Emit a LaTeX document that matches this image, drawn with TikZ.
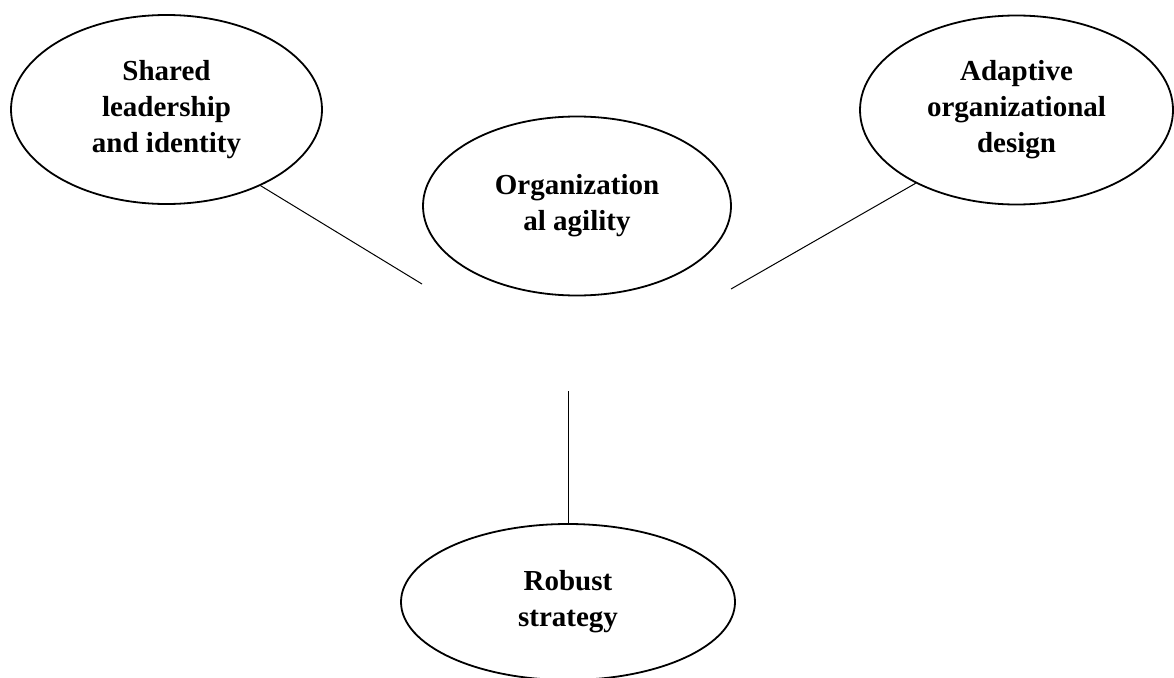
\documentclass[tikz,border=0pt]{standalone}
\usepackage{fontspec}
\setmainfont{Liberation Serif}
\usetikzlibrary{shapes.geometric}

\begin{document}
\begin{tikzpicture}[x=1pt,y=-1pt,
    bubble/.style={draw,ellipse,line width=1.8pt,inner sep=0pt,align=center,
      font=\fontsize{29}{36}\selectfont\bfseries},
    link/.style={line width=1pt}]
    \useasboundingbox (0,0) rectangle (1174,677);
    \node[bubble,minimum width=311,minimum height=189] (shared)   at (166.5,109.5) {Shared\\leadership\\and identity};
    \node[bubble,minimum width=313,minimum height=189] (adaptive) at (1016.5,110)  {Adaptive\\organizational\\design};
    \node[bubble,minimum width=308,minimum height=179] (agility)  at (577,206)     {Organization\\al agility};
    \node[bubble,minimum width=334,minimum height=156] (robust)   at (568,602)     {Robust\\strategy};
    % loose ends near the centre
    \coordinate (shared_end)   at (422,284);
    \coordinate (adaptive_end) at (731,289);
    \coordinate (robust_end)   at (568,391);
    \draw[link] (shared.-39)    -- (shared_end);
    \draw[link] (adaptive.-144) -- (adaptive_end);
    \draw[link] (robust_end)    -- (robust);
\end{tikzpicture}
\end{document}
